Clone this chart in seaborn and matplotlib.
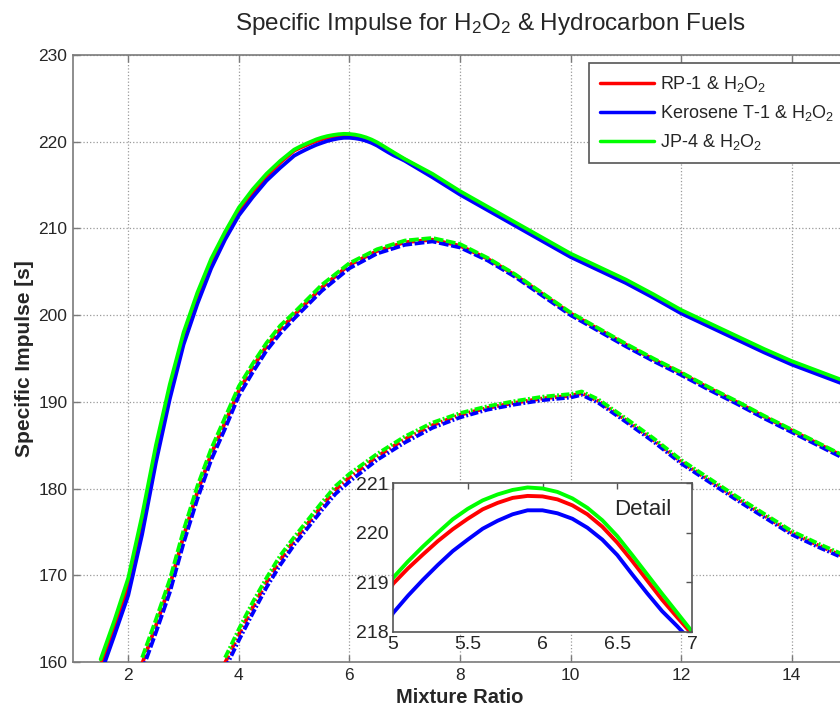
import matplotlib
matplotlib.use("Agg")
import matplotlib.pyplot as plt
import seaborn as sns

# ---------------- data ----------------
x_solid = [1.5, 1.75, 2.0, 2.25, 2.5, 2.75, 3.0, 3.25, 3.5, 3.75, 4.0, 4.25, 4.5, 4.75,
           5.0, 5.1, 5.2, 5.3, 5.4, 5.5, 5.6, 5.7, 5.8, 5.9, 6.0, 6.1, 6.2, 6.3, 6.4, 6.5, 6.6, 6.7, 6.8, 6.9, 7.0,
           7.5, 8.0, 8.5, 9.0, 9.5, 10.0, 10.5, 11.0, 11.5, 12.0, 12.5, 13.0, 13.5, 14.0, 14.5, 15.0]
rp1_solid = [159.6, 164.0, 168.8, 175.9, 184.1, 191.2, 197.4, 202.0, 206.0, 209.2, 212.0, 214.1, 216.0, 217.6,
             218.97, 219.28, 219.56, 219.83, 220.07, 220.28, 220.47, 220.60, 220.70, 220.74, 220.73,
             220.67, 220.55, 220.37, 220.12, 219.80, 219.43, 219.04, 218.65, 218.30, 217.96,
             216.1, 214.1, 212.3, 210.5, 208.7, 206.9, 205.4, 203.9, 202.2, 200.4, 198.9, 197.4, 195.9, 194.5, 193.3, 192.1]
ker_solid = [158.6, 163.1, 167.7, 174.7, 183.0, 190.3, 196.6, 201.3, 205.4, 208.7, 211.5, 213.6, 215.5, 217.0,
             218.38, 218.73, 219.05, 219.35, 219.63, 219.86, 220.08, 220.24, 220.37, 220.45, 220.45,
             220.39, 220.28, 220.10, 219.86, 219.55, 219.16, 218.78, 218.42, 218.12, 217.80,
             215.9, 213.9, 212.1, 210.3, 208.5, 206.7, 205.2, 203.7, 202.0, 200.2, 198.7, 197.2, 195.7, 194.3, 193.1, 191.9]
jp4_solid = [160.3, 164.8, 169.7, 176.9, 185.0, 192.0, 198.0, 202.6, 206.5, 209.6, 212.4, 214.5, 216.3, 217.8,
             219.09, 219.42, 219.72, 220.00, 220.27, 220.48, 220.65, 220.77, 220.86, 220.91, 220.89,
             220.82, 220.69, 220.50, 220.25, 219.93, 219.55, 219.16, 218.77, 218.39, 218.01,
             216.3, 214.3, 212.5, 210.7, 208.9, 207.1, 205.6, 204.1, 202.4, 200.6, 199.1, 197.6, 196.1, 194.7, 193.5, 192.3]

x_dash = [2.25, 2.5, 2.75, 3.0, 3.25, 3.5, 3.75, 4.0, 4.25, 4.5, 4.75, 5.0, 5.5, 6.0, 6.5, 7.0, 7.5,
          8.0, 8.5, 9.0, 9.5, 10.0, 10.5, 11.0, 11.5, 12.0, 12.5, 13.0, 13.5, 14.0, 14.5, 15.0]
rp1_dash = [159.8, 164.2, 168.8, 174.5, 179.6, 184.0, 187.6, 191.3, 194.0, 196.4, 198.4, 200.0, 203.2, 205.8, 207.4, 208.4, 208.7,
            208.0, 206.5, 204.6, 202.4, 200.2, 198.4, 196.6, 194.9, 193.3, 191.6, 190.0, 188.3, 186.7, 185.1, 183.5]
ker_dash = [159.0, 163.4, 168.0, 173.7, 178.8, 183.3, 186.9, 190.7, 193.4, 195.9, 197.9, 199.6, 202.8, 205.4, 207.1, 208.1, 208.5,
            207.8, 206.3, 204.4, 202.2, 200.0, 198.2, 196.4, 194.7, 193.1, 191.4, 189.8, 188.1, 186.5, 184.9, 183.3]
jp4_dash = [160.5, 164.9, 169.5, 175.2, 180.3, 184.6, 188.2, 191.8, 194.4, 196.8, 198.8, 200.3, 203.5, 206.0, 207.6, 208.6, 208.9,
            208.2, 206.6, 204.7, 202.5, 200.3, 198.5, 196.7, 195.0, 193.4, 191.7, 190.1, 188.4, 186.8, 185.2, 183.6]

x_dd = [3.75, 4.0, 4.25, 4.5, 4.75, 5.0, 5.25, 5.5, 5.75, 6.0, 6.5, 7.0, 7.5, 8.0, 8.5, 9.0, 9.5, 10.0,
        10.2, 10.5, 11.0, 11.5, 12.0, 12.5, 13.0, 13.5, 14.0, 14.5, 15.0]
rp1_dd = [159.9, 163.2, 166.3, 169.2, 171.8, 174.0, 176.0, 178.0, 179.9, 181.3, 183.7, 185.7, 187.3, 188.5, 189.3, 189.9, 190.4, 190.7,
          191.0, 190.1, 187.9, 185.6, 183.1, 181.0, 178.9, 176.9, 174.9, 173.4, 172.0]
ker_dd = [159.2, 162.5, 165.6, 168.6, 171.2, 173.5, 175.5, 177.5, 179.4, 180.8, 183.3, 185.3, 187.0, 188.2, 189.1, 189.7, 190.2, 190.5,
          190.8, 189.9, 187.7, 185.4, 182.9, 180.8, 178.7, 176.7, 174.7, 173.2, 171.8]
jp4_dd = [160.5, 163.8, 166.9, 169.7, 172.3, 174.4, 176.4, 178.4, 180.3, 181.7, 184.0, 186.0, 187.6, 188.7, 189.5, 190.1, 190.6, 190.9,
          191.2, 190.3, 188.1, 185.8, 183.3, 181.2, 179.1, 177.1, 175.1, 173.6, 172.2]

fuel_labels = ["RP-1 & H$_2$O$_2$", "Kerosene T-1 & H$_2$O$_2$", "JP-4 & H$_2$O$_2$"]
fuel_colors = ["#ff0000", "#0000ff", "#00ff00"]
x_ticks = [2, 4, 6, 8, 10, 12, 14]
y_ticks = [160, 170, 180, 190, 200, 210, 220, 230]
inset_xticks = [5, 5.5, 6, 6.5, 7]
inset_xlabels = ["5", "5.5", "6", "6.5", "7"]
inset_yticks = [218, 219, 220, 221]

# ---------------- style ----------------
sns.set_theme(style="white")
plt.rcParams['font.family'] = ['Liberation Sans', 'DejaVu Sans']
plt.rcParams['mathtext.default'] = 'regular'

fig = plt.figure(figsize=(8.4, 7.13), dpi=100)
ax = fig.add_axes([73 / 840, 51 / 713, 774 / 840, 607 / 713])

LW = 2.7
dash_style = (0, (2.6, 0.7))
dashdot_style = (0, (2.2, 0.6, 0.5, 0.6))

solid_sets = [rp1_solid, ker_solid, jp4_solid]
dash_sets = [rp1_dash, ker_dash, jp4_dash]
dd_sets = [rp1_dd, ker_dd, jp4_dd]

for i in range(3):
    sns.lineplot(x=x_solid, y=solid_sets[i], ax=ax, color=fuel_colors[i], lw=LW,
                 label=fuel_labels[i], zorder=3)
for i in range(3):
    sns.lineplot(x=x_dash, y=dash_sets[i], ax=ax, color=fuel_colors[i], lw=LW,
                 linestyle=dash_style, zorder=3)
for i in range(3):
    sns.lineplot(x=x_dd, y=dd_sets[i], ax=ax, color=fuel_colors[i], lw=LW,
                 linestyle=dashdot_style, zorder=3)

ax.set_xlim(1, 15)
ax.set_ylim(160, 230)
ax.set_xticks(x_ticks)
ax.set_yticks(y_ticks)
ax.grid(True, linestyle=':', color='#9a9a9a', lw=0.9)
ax.tick_params(direction='in', length=5, width=1, color='#7a7a7a', labelsize=12.5,
               top=True, right=True, bottom=True, left=True, pad=4)
for s in ax.spines.values():
    s.set_color('#7a7a7a')
    s.set_linewidth(1.2)
ax.set_xlabel("Mixture Ratio", fontsize=14.5, fontweight='bold', labelpad=4)
ax.set_ylabel("Specific Impulse [s]", fontsize=15, fontweight='bold', labelpad=3)
ax.set_title("Specific Impulse for H$_2$O$_2$ & Hydrocarbon Fuels", fontsize=17.5, pad=18, x=0.539)

leg = ax.legend(loc='upper left', bbox_to_anchor=(589 / 840, 650 / 713), bbox_transform=fig.transFigure,
                fancybox=False, framealpha=1, edgecolor='#555555', fontsize=13,
                handlelength=3.0, handletextpad=0.35, labelspacing=0.5, borderaxespad=0,
                borderpad=0.6)
leg.get_frame().set_linewidth(1.2)
for h in leg.get_lines():
    h.set_linewidth(2.5)

# ---------------- inset ----------------
axin = fig.add_axes([393 / 840, 81 / 713, 299 / 840, 149 / 713])
axin.set_facecolor('white')
for i in range(3):
    sns.lineplot(x=x_solid, y=solid_sets[i], ax=axin, color=fuel_colors[i], lw=2.8)
axin.set_xlim(5, 7)
axin.set_ylim(218, 221)
axin.set_xticks(inset_xticks)
axin.set_xticklabels(inset_xlabels)
axin.set_yticks(inset_yticks)
axin.tick_params(direction='in', length=4, width=1, color='#555555', labelsize=14,
                 top=True, right=True, pad=3)
for s in axin.spines.values():
    s.set_color('#555555')
    s.set_linewidth(1.2)
axin.text(0.93, 0.82, "Detail", transform=axin.transAxes, ha='right', va='center', fontsize=16)

fig.savefig("out.png", dpi=100)
